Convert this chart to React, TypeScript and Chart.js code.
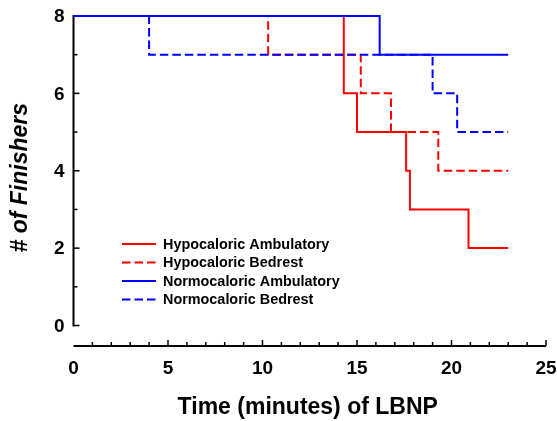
import React, { useEffect, useRef } from "react";
import { Chart, registerables } from "chart.js";

Chart.register(...registerables);

// ---- Data ----
const hypoAmbTimes = [0, 14.3, 15.0, 17.6, 17.8, 20.9, 23];
const hypoAmbCounts = [8, 6, 5, 4, 3, 2, 2];

const hypoBedTimes = [0, 10.3, 15.2, 16.8, 19.3, 23];
const hypoBedCounts = [8, 7, 6, 5, 4, 4];

const normoAmbTimes = [0, 16.2, 23];
const normoAmbCounts = [8, 7, 7];

const normoBedTimes = [0, 4.0, 19.0, 20.3, 23];
const normoBedCounts = [8, 7, 6, 5, 5];

const seriesLabels = [
  "Hypocaloric Ambulatory",
  "Hypocaloric Bedrest",
  "Normocaloric Ambulatory",
  "Normocaloric Bedrest",
];

const xTickLabels = [0, 5, 10, 15, 20, 25];
const yTickLabels = [0, 2, 4, 6, 8];
const xMinorTicks = [1, 2, 3, 4, 6, 7, 8, 9, 11, 12, 13, 14, 16, 17, 18, 19, 21, 22, 23, 24];
const yMinorTicks = [1, 3, 5, 7];

const xTitle = "Time (minutes) of LBNP";
const yTitle = "# of Finishers";

const RED = "#ff0000";
const BLUE = "#0000ff";
const FONT = "'Liberation Sans', Arial, Helvetica, sans-serif";
const DASH = [8.5, 4];

const toPoints = (xs: number[], ys: number[]) => xs.map((x, i) => ({ x, y: ys[i] }));

const axesPlugin = {
  id: "customAxes",
  beforeDatasetsDraw(chart: any) {
    const { ctx, chartArea, scales } = chart;
    const xs = scales.x;
    const ys = scales.y;
    ctx.save();
    ctx.strokeStyle = "#000";
    ctx.lineWidth = 2;
    ctx.lineCap = "butt";
    // x axis line
    const yAxisPos = chartArea.bottom;
    ctx.beginPath();
    ctx.moveTo(xs.getPixelForValue(0), yAxisPos);
    ctx.lineTo(xs.getPixelForValue(25), yAxisPos);
    ctx.stroke();
    // y axis line (0..8 only)
    const xAxisPos = xs.getPixelForValue(0);
    ctx.beginPath();
    ctx.moveTo(xAxisPos, ys.getPixelForValue(0) + 1);
    ctx.lineTo(xAxisPos, ys.getPixelForValue(8) - 1);
    ctx.stroke();
    ctx.lineWidth = 1.5;
    // x ticks (inward)
    xTickLabels.forEach((v) => {
      if (v === 0) return;
      const p = xs.getPixelForValue(v);
      ctx.beginPath();
      ctx.moveTo(p, yAxisPos);
      ctx.lineTo(p, yAxisPos - 6);
      ctx.stroke();
    });
    xMinorTicks.forEach((v) => {
      const p = xs.getPixelForValue(v);
      ctx.beginPath();
      ctx.moveTo(p, yAxisPos);
      ctx.lineTo(p, yAxisPos - 4);
      ctx.stroke();
    });
    // y ticks (inward)
    yTickLabels.forEach((v) => {
      const p = ys.getPixelForValue(v);
      ctx.beginPath();
      ctx.moveTo(xAxisPos, p);
      ctx.lineTo(xAxisPos + 6, p);
      ctx.stroke();
    });
    yMinorTicks.forEach((v) => {
      const p = ys.getPixelForValue(v);
      ctx.beginPath();
      ctx.moveTo(xAxisPos, p);
      ctx.lineTo(xAxisPos + 4, p);
      ctx.stroke();
    });
    // tick labels
    ctx.fillStyle = "#000";
    ctx.font = `bold 19px ${FONT}`;
    ctx.textAlign = "center";
    ctx.textBaseline = "middle";
    xTickLabels.forEach((v) => {
      ctx.fillText(String(v), xs.getPixelForValue(v), yAxisPos + 23);
    });
    ctx.textAlign = "right";
    yTickLabels.forEach((v) => {
      ctx.fillText(String(v), xAxisPos - 9, ys.getPixelForValue(v) + 1);
    });
    ctx.restore();
  },
  afterDraw(chart: any) {
    const { ctx, chartArea, scales } = chart;
    const ys = scales.y;
    ctx.save();
    ctx.fillStyle = "#000";
    // x title
    ctx.font = `bold 23px ${FONT}`;
    ctx.textAlign = "center";
    ctx.textBaseline = "alphabetic";
    ctx.fillText(xTitle, (chartArea.left + chartArea.right) / 2 - 2, 414);
    // y title
    const yc = (ys.getPixelForValue(0) + ys.getPixelForValue(8)) / 2 + 7;
    ctx.save();
    ctx.translate(27, yc);
    ctx.rotate(-Math.PI / 2);
    ctx.font = `italic bold 23px ${FONT}`;
    ctx.textAlign = "center";
    ctx.textBaseline = "alphabetic";
    ctx.fillText(yTitle, 0, 0);
    ctx.restore();
    // legend
    const ds = chart.data.datasets;
    ctx.font = `bold 14.4px ${FONT}`;
    ctx.textAlign = "left";
    ctx.textBaseline = "middle";
    ds.forEach((d: any, i: number) => {
      const ry = 244 + i * 18.5;
      ctx.beginPath();
      ctx.strokeStyle = d.borderColor;
      ctx.lineWidth = 2;
      ctx.setLineDash(d.borderDash || []);
      ctx.moveTo(122, ry);
      ctx.lineTo(156, ry);
      ctx.stroke();
      ctx.setLineDash([]);
      ctx.fillStyle = "#000";
      ctx.fillText(d.label, 163, ry + 1);
    });
    ctx.restore();
  },
};

export default function App() {
  const ref = useRef<HTMLCanvasElement | null>(null);
  useEffect(() => {
    if (!ref.current) return;
    const chart = new Chart(ref.current, {
      type: "line",
      data: {
        datasets: [
          {
            label: seriesLabels[0],
            data: toPoints(hypoAmbTimes, hypoAmbCounts),
            borderColor: RED,
            borderWidth: 2,
            stepped: "before",
            pointRadius: 0,
            order: 1,
            clip: false,
          },
          {
            label: seriesLabels[1],
            data: toPoints(hypoBedTimes, hypoBedCounts),
            borderColor: RED,
            borderWidth: 2,
            borderDash: DASH,
            stepped: "before",
            pointRadius: 0,
            order: 1,
            clip: false,
          },
          {
            label: seriesLabels[2],
            data: toPoints(normoAmbTimes, normoAmbCounts),
            borderColor: BLUE,
            borderWidth: 2,
            stepped: "before",
            pointRadius: 0,
            order: 0,
            clip: false,
          },
          {
            label: seriesLabels[3],
            data: toPoints(normoBedTimes, normoBedCounts),
            borderColor: BLUE,
            borderWidth: 2,
            borderDash: DASH,
            stepped: "before",
            pointRadius: 0,
            order: 0,
            clip: false,
          },
        ] as any,
      },
      options: {
        animation: false,
        responsive: false,
        devicePixelRatio: 1,
        layout: { padding: { left: 0, right: 11, top: 16, bottom: 0 } },
        plugins: {
          legend: { display: false },
          tooltip: { enabled: false },
          title: { display: false },
        },
        scales: {
          x: {
            type: "linear",
            min: 0,
            max: 25,
            grid: { display: false, drawTicks: false },
            border: { display: false },
            ticks: { display: false },
            afterBuildTicks: (scale: any) => {
              scale.ticks = xTickLabels.map((v) => ({ value: v }));
            },
            afterFit: (scale: any) => {
              scale.height = 75;
            },
          },
          y: {
            type: "linear",
            min: -0.53,
            max: 8,
            grid: { display: false, drawTicks: false },
            border: { display: false },
            ticks: { display: false },
            afterBuildTicks: (scale: any) => {
              scale.ticks = yTickLabels.map((v) => ({ value: v }));
            },
            afterFit: (scale: any) => {
              scale.width = 73.5;
            },
          },
        },
      } as any,
      plugins: [axesPlugin],
    });
    return () => chart.destroy();
  }, []);
  return (
    <div style={{ position: "fixed", left: 0, top: 0, width: 557, height: 421, background: "#fff" }}>
      <canvas ref={ref} width={557} height={421} style={{ display: "block" }} />
    </div>
  );
}
